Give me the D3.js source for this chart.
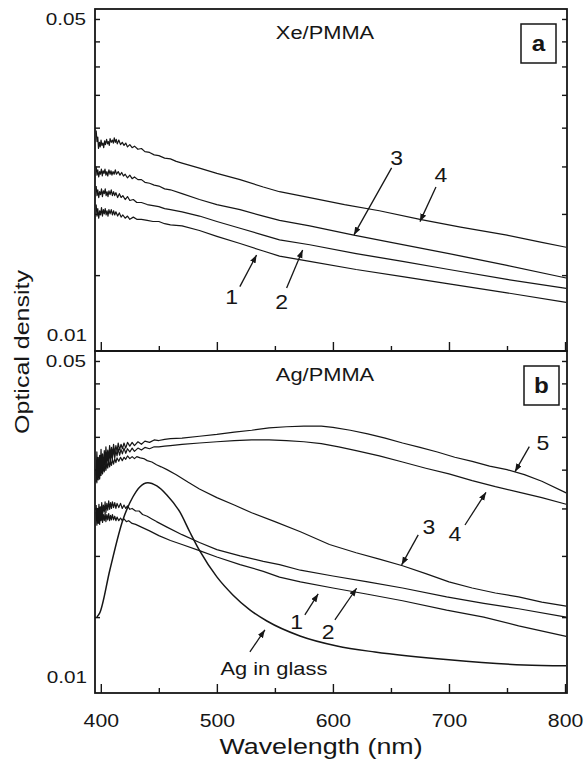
<!DOCTYPE html>
<html><head><meta charset="utf-8">
<script src="https://cdn.jsdelivr.net/npm/d3@7/dist/d3.min.js"></script>
<style>body{margin:0;background:#fff}svg{display:block}</style>
</head><body>
<svg id="c" width="587" height="771"></svg>
<script>
// ---------------- DATA ----------------
const xTickMajor = [400, 500, 600, 700, 800];
const xTickMinor = [450, 550, 650, 750];
const yTickValues = [0.015, 0.02, 0.025, 0.03, 0.035, 0.04, 0.045, 0.05];
const yTopLabel = "0.05";
const yBottomLabel = "0.01";

// Panel a : Xe/PMMA  [wavelength nm, optical density]
const xe1 = [[396,0.0209],[396.7,0.0198],[397.4,0.0205],[398.2,0.0196],[399,0.0203],[399.8,0.0199],[400.6,0.0206],[401.4,0.0198],[402.2,0.0204],[403,0.0200],[403.8,0.0205],[404.6,0.0199],[405.4,0.0203],[406.2,0.0198],[407,0.0204],[408,0.0200],[409,0.0204],[410,0.0199],[411,0.0203],[412,0.0199],[413,0.0202],[414.5,0.0198],[416,0.0201],[417.5,0.0197],[419,0.0199],[421,0.0196],[423,0.0198],[425,0.0195],[428,0.0197],[431,0.0195],[435,0.0195],[440,0.0194],[445,0.0193],[450,0.0193],[455,0.0191],[460,0.0190],[470,0.0189],[485,0.0185],[500,0.0180],[520,0.0174],[540,0.0168],[554,0.0164],[580,0.0160],[620,0.0154],[660,0.0149],[700,0.0144],[750,0.0138],[801,0.0132]];
const xe2 = [[396,0.0228],[396.7,0.0218],[397.4,0.0224],[398.2,0.0216],[399,0.0222],[399.8,0.0219],[400.6,0.0225],[401.4,0.0217],[402.2,0.0223],[403,0.0220],[403.8,0.0225],[404.6,0.0218],[405.4,0.0222],[406.2,0.0217],[407,0.0223],[408,0.0219],[409,0.0224],[410,0.0218],[411,0.0222],[412,0.0218],[413,0.0221],[414.5,0.0216],[416,0.0220],[417.5,0.0216],[419,0.0218],[421,0.0214],[423,0.0217],[425,0.0213],[428,0.0214],[431,0.0211],[435,0.0211],[440,0.0209],[445,0.0208],[450,0.0207],[455,0.0205],[460,0.0204],[470,0.0202],[485,0.0198],[500,0.0193],[520,0.0187],[540,0.0181],[554,0.0177],[580,0.0173],[620,0.0166],[660,0.0160],[700,0.0154],[750,0.0147],[801,0.0141]];
const xe3 = [[396,0.0250],[396.7,0.0240],[397.4,0.0246],[398.2,0.0238],[399,0.0244],[399.7,0.0241],[400.5,0.0247],[401.3,0.0239],[402,0.0245],[402.8,0.0242],[403.6,0.0247],[404.4,0.0240],[405.2,0.0244],[406,0.0239],[407,0.0246],[408,0.0241],[408.8,0.0245],[409.6,0.0240],[410.5,0.0244],[411.5,0.0241],[412.5,0.0246],[413.5,0.0241],[415,0.0244],[416.5,0.0240],[418,0.0243],[419.5,0.0239],[421,0.0241],[423,0.0237],[425,0.0240],[427,0.0236],[429,0.0238],[432,0.0235],[435,0.0235],[438,0.0232],[442,0.0231],[446,0.0229],[450,0.0228],[455,0.0225],[460,0.0224],[470,0.0220],[485,0.0214],[500,0.0209],[520,0.0204],[540,0.0198],[554,0.0194],[580,0.0189],[618,0.0181],[650,0.0175],[700,0.0166],[750,0.0157],[801,0.0148]];
const xe4 = [[396,0.0296],[396.7,0.0281],[397.4,0.0287],[398,0.0272],[398.8,0.0280],[399.5,0.0274],[400.2,0.0283],[401,0.0276],[401.8,0.0279],[402.5,0.0273],[403.3,0.0282],[404,0.0277],[405,0.0284],[405.8,0.0278],[406.5,0.0281],[407.3,0.0276],[408,0.0285],[409,0.0280],[410,0.0283],[410.8,0.0279],[411.6,0.0286],[412.5,0.0280],[413.3,0.0284],[414.2,0.0278],[415.5,0.0283],[417,0.0277],[418.5,0.0280],[420,0.0276],[421.5,0.0279],[423,0.0274],[425,0.0277],[427,0.0273],[429,0.0275],[432,0.0271],[435,0.0272],[438,0.0268],[442,0.0267],[446,0.0264],[450,0.0263],[455,0.0260],[460,0.0259],[465,0.0256],[470,0.0254],[485,0.0248],[500,0.0242],[520,0.0235],[540,0.0227],[554,0.0222],[580,0.0216],[610,0.0209],[640,0.0203],[675,0.0195],[710,0.0188],[750,0.0181],[780,0.0175],[801,0.0171]];

// Panel b : Ag/PMMA
const ag1 = [[396,0.0246],[396.6,0.0231],[397.2,0.0243],[397.8,0.0233],[398.4,0.0245],[399,0.0232],[399.6,0.0244],[400.2,0.0236],[400.8,0.0246],[401.5,0.0234],[402.2,0.0243],[403,0.0236],[403.7,0.0245],[404.4,0.0235],[405.2,0.0243],[406,0.0237],[406.8,0.0244],[407.6,0.0236],[408.4,0.0242],[409.2,0.0237],[410,0.0243],[411,0.0237],[412,0.0241],[413,0.0236],[414,0.0240],[415.5,0.0236],[417,0.0239],[418.5,0.0236],[420,0.0238],[422,0.0235],[424,0.0236],[427,0.0233],[430,0.0232],[435,0.0229],[442,0.0225],[450,0.0220],[460,0.0215],[470,0.0211],[485,0.0205],[500,0.0199],[520,0.0192],[540,0.0186],[554,0.0181],[572,0.0177],[600,0.0172],[630,0.0167],[660,0.0162],[698,0.0155],[730,0.0150],[760,0.0144],[801,0.0137]];
const ag2 = [[396,0.0254],[396.6,0.0237],[397.2,0.0250],[397.8,0.0240],[398.4,0.0255],[399,0.0238],[399.6,0.0252],[400.2,0.0244],[400.8,0.0257],[401.5,0.0242],[402.2,0.0254],[403,0.0246],[403.7,0.0258],[404.4,0.0245],[405.2,0.0256],[406,0.0248],[406.8,0.0259],[407.6,0.0249],[408.4,0.0257],[409.2,0.0250],[410,0.0258],[411,0.0251],[412,0.0257],[413,0.0250],[414,0.0256],[415.5,0.0251],[417,0.0256],[418.5,0.0250],[420,0.0254],[421.5,0.0250],[423,0.0253],[425,0.0249],[427,0.0250],[430,0.0247],[433,0.0247],[436,0.0243],[440,0.0241],[444,0.0238],[448,0.0235],[457,0.0229],[470,0.0221],[485,0.0213],[500,0.0206],[520,0.0200],[540,0.0195],[554,0.0192],[572,0.0187],[600,0.0182],[630,0.0177],[660,0.0172],[698,0.0165],[730,0.0160],[760,0.0156],[801,0.0150]];
const ag3 = [[396,0.0301],[396.6,0.0282],[397.2,0.0298],[397.8,0.0286],[398.4,0.0305],[399,0.0287],[399.6,0.0300],[400.2,0.0292],[400.8,0.0308],[401.5,0.0294],[402.2,0.0306],[403,0.0297],[403.7,0.0311],[404.4,0.0299],[405.2,0.0309],[406,0.0302],[406.8,0.0314],[407.6,0.0304],[408.4,0.0312],[409.2,0.0306],[410,0.0315],[411,0.0308],[412,0.0316],[413,0.0310],[414,0.0317],[415.5,0.0312],[417,0.0318],[418.5,0.0313],[420,0.0318],[421.5,0.0315],[423,0.0320],[425,0.0316],[427,0.0319],[429,0.0316],[431,0.0319],[434,0.0317],[437,0.0316],[440,0.0313],[444,0.0311],[448,0.0307],[452,0.0304],[457,0.0300],[465,0.0293],[475,0.0283],[485,0.0274],[500,0.0263],[515,0.0254],[530,0.0245],[550,0.0235],[572,0.0224],[597,0.0211],[620,0.0203],[640,0.0197],[660,0.0191],[680,0.0184],[700,0.0177],[720,0.0172],[740,0.0168],[760,0.0165],[780,0.0161],[801,0.0158]];
const ag4 = [[396,0.0283],[396.6,0.0312],[397.2,0.0289],[397.8,0.0308],[398.4,0.0296],[399,0.0319],[399.6,0.0292],[400.2,0.0315],[400.8,0.0299],[401.5,0.0322],[402.2,0.0301],[403,0.0317],[403.7,0.0305],[404.4,0.0325],[405.2,0.0306],[406,0.0321],[406.8,0.0311],[407.6,0.0327],[408.4,0.0313],[409.2,0.0324],[410,0.0316],[411,0.0330],[412,0.0317],[413,0.0328],[414,0.0320],[415,0.0331],[416.2,0.0321],[417.4,0.0330],[418.6,0.0323],[420,0.0332],[421.5,0.0324],[423,0.0331],[425,0.0326],[427,0.0332],[429,0.0327],[432,0.0332],[435,0.0329],[438,0.0333],[442,0.0331],[446,0.0334],[450,0.0334],[455,0.0335],[460,0.0336],[470,0.0338],[485,0.0340],[500,0.0342],[515,0.0344],[530,0.0345],[545,0.0345],[560,0.0344],[575,0.0342],[590,0.0339],[605,0.0334],[620,0.0328],[640,0.0320],[660,0.0311],[680,0.0302],[700,0.0294],[720,0.0285],[740,0.0277],[760,0.0270],[780,0.0263],[801,0.0255]];
const ag5 = [[396,0.0292],[396.6,0.0326],[397.2,0.0300],[397.8,0.0318],[398.4,0.0290],[399,0.0321],[399.6,0.0303],[400.2,0.0330],[400.8,0.0306],[401.5,0.0323],[402.2,0.0300],[403,0.0328],[403.7,0.0310],[404.4,0.0334],[405.2,0.0314],[406,0.0329],[406.8,0.0316],[407.6,0.0336],[408.4,0.0320],[409.2,0.0333],[410,0.0322],[411,0.0338],[412,0.0324],[413,0.0336],[414,0.0327],[415,0.0340],[416.2,0.0329],[417.4,0.0338],[418.6,0.0331],[420,0.0340],[421.5,0.0332],[423,0.0341],[425,0.0335],[427,0.0341],[429,0.0336],[432,0.0342],[435,0.0338],[438,0.0343],[442,0.0341],[446,0.0345],[450,0.0344],[455,0.0346],[460,0.0347],[470,0.0348],[485,0.0351],[500,0.0354],[515,0.0358],[530,0.0361],[545,0.0365],[560,0.0367],[575,0.0368],[590,0.0368],[600,0.0366],[615,0.0361],[630,0.0355],[645,0.0348],[660,0.0340],[675,0.0333],[690,0.0326],[705,0.0318],[720,0.0312],[735,0.0305],[750,0.0300],[765,0.0293],[780,0.0284],[801,0.0269]];
const agGlass = [[396.6,0.01501],[399.1,0.0153],[407.8,0.01872],[419,0.02368],[427.6,0.02638],[433.6,0.02766],[440.5,0.02822],[448.3,0.02779],[456.9,0.02663],[468.1,0.02459],[476.7,0.02238],[485.3,0.02047],[500,0.01812],[513.8,0.01665],[528.4,0.01552],[543.1,0.01473],[571.6,0.01373],[603.4,0.0131],[636.2,0.01273],[700,0.01227],[764.7,0.01198],[800.9,0.01193]];

// annotations: label, tip [wavelength, OD]
const xeNotes = [
  {label:"1", tip:[534.2,0.01649], tail:[-16.7,31.7], pos:[-25,41.7]},
  {label:"2", tip:[573.9,0.01688], tail:[-16,38], pos:[-21,51.7]},
  {label:"3", tip:[618.1,0.01812], tail:[37.7,-67], pos:[42.7,-77]},
  {label:"4", tip:[675,0.01929], tail:[16,-34.7], pos:[21,-46.7]}
];
const agNotes = [
  {label:"1", tip:[587.3,0.01673], tail:[-13.3,21], pos:[-21.6,27.7]},
  {label:"2", tip:[620.4,0.01718], tail:[-21.7,31.7], pos:[-28.4,43.4]},
  {label:"3", tip:[659.2,0.01917], tail:[16.6,-30], pos:[27.3,-38.3]},
  {label:"4", tip:[731.9,0.02697], tail:[-21,32.7], pos:[-31,41]},
  {label:"5", tip:[756.9,0.02972], tail:[14.3,-25], pos:[28,-28.4]},
  {label:"Ag in glass", tip:[541.4,0.01413], tail:[-15,22], pos:[9,38]}
];

// ---------------- DRAW ----------------
const svg = d3.select('#c');
const FONT = "'Liberation Sans', Arial, Helvetica, sans-serif";
const INK = '#161616';
const L = 95, R = 567, T = 9, PH = 342;
const x = d3.scaleLinear().domain([395, 801.7]).range([L, R]);
const makeY = top => d3.scaleLog().domain([0.0105, 0.0524]).range([top + PH, top]);

svg.append('defs').append('marker')
  .attr('id','ah').attr('markerUnits','userSpaceOnUse')
  .attr('markerWidth',9).attr('markerHeight',7).attr('refX',8).attr('refY',3)
  .attr('orient','auto')
  .append('path').attr('d','M0,0 L8,3 L0,6 Z').attr('fill',INK);

function sText(g, px, py, str, size, anchor, sx, weight) {
  return g.append('text')
    .attr('transform', `translate(${px},${py}) scale(${sx},1)`)
    .attr('text-anchor', anchor).attr('dy','0.36em')
    .attr('font-family', FONT).attr('font-size', size)
    .attr('font-weight', weight || 'normal').attr('fill', INK).text(str);
}

function panel(top, y, series, notes, title, letter, boxPos, showXLabels) {
  const g = svg.append('g');
  const clipId = 'clip' + top;
  svg.select('defs').append('clipPath').attr('id', clipId)
    .append('rect').attr('x', L).attr('y', top).attr('width', R - L).attr('height', PH);

  // curves
  const line = d3.line().x(d => x(d[0])).y(d => y(d[1]));
  const cg = g.append('g').attr('clip-path', `url(#${clipId})`);
  series.forEach(s => {
    cg.append('path').datum(s.data)
      .attr('d', s.smooth ? line.curve(d3.curveMonotoneX)(s.data) : line.curve(d3.curveLinear)(s.data))
      .attr('fill','none').attr('stroke', INK).attr('stroke-width', s.smooth ? 1.5 : 1.2)
      .attr('stroke-linejoin','round');
  });

  // axes ticks (inward)
  const bx = g.append('g').attr('transform', `translate(0,${top + PH})`);
  bx.call(d3.axisBottom(x).tickValues(xTickMajor).tickSizeInner(-9).tickSizeOuter(0).tickPadding(21)
      .tickFormat(showXLabels ? d3.format('d') : ''));
  const bm = g.append('g').attr('transform', `translate(0,${top + PH})`);
  bm.call(d3.axisBottom(x).tickValues(xTickMinor).tickSizeInner(-5).tickSizeOuter(0).tickFormat(''));
  const ly = g.append('g').attr('transform', `translate(${L},0)`);
  ly.call(d3.axisLeft(y).tickValues(yTickValues).tickSizeInner(-5).tickSizeOuter(0).tickFormat(''));
  const ry = g.append('g').attr('transform', `translate(${R},0)`);
  ry.call(d3.axisRight(y).tickValues(yTickValues).tickSizeInner(-5).tickSizeOuter(0).tickFormat(''));
  [bx, bm, ly, ry].forEach(a => {
    a.select('.domain').remove();
    a.selectAll('line').attr('stroke', INK).attr('stroke-width', 1.4);
  });
  bx.selectAll('text').attr('font-family', FONT).attr('font-size', 18).attr('fill', INK)
    .attr('transform', 'scale(1.18,1)');

  // y labels
  sText(g, 86, y(0.05), yTopLabel, 17, 'end', 1.22);
  sText(g, 87, top + PH - 16, yBottomLabel, 17, 'end', 1.22);

  // frame
  g.append('rect').attr('x', L).attr('y', top).attr('width', R - L).attr('height', PH)
    .attr('fill','none').attr('stroke', INK).attr('stroke-width', 1.8);

  // title
  sText(g, 325, top + 23, title, 19, 'middle', 1.15);
  // panel letter box
  g.append('rect').attr('x', boxPos[0]).attr('y', top + boxPos[1]).attr('width', 35).attr('height', 39)
    .attr('fill','#fff').attr('stroke', INK).attr('stroke-width', 1.5);
  sText(g, boxPos[0] + 17.5, top + boxPos[1] + 19, letter, 22, 'middle', 1.1, 'bold');

  // annotations
  notes.forEach(n => {
    const tx = x(n.tip[0]), ty = y(n.tip[1]);
    g.append('line').attr('x1', tx + n.tail[0]).attr('y1', ty + n.tail[1])
      .attr('x2', tx).attr('y2', ty).attr('stroke', INK).attr('stroke-width', 1.3)
      .attr('marker-end', 'url(#ah)');
    sText(g, tx + n.pos[0], ty + n.pos[1], n.label, n.label.length > 1 ? 19 : 20, 'middle', 1.15);
  });
}

const yA = makeY(T), yB = makeY(T + PH);
panel(T, yA, [
  {data: xe1}, {data: xe2}, {data: xe3}, {data: xe4}
], xeNotes, 'Xe/PMMA', 'a', [521, 15], false);
panel(T + PH, yB, [
  {data: ag1}, {data: ag2}, {data: ag3}, {data: ag4}, {data: ag5}, {data: agGlass, smooth: true}
], agNotes, 'Ag/PMMA', 'b', [524, 15], true);

// axis titles
sText(svg, 321, 746, 'Wavelength (nm)', 22, 'middle', 1.22);
svg.append('text')
  .attr('transform', 'translate(22,352) rotate(-90) scale(1.25,1)')
  .attr('text-anchor','middle').attr('dy','0.36em')
  .attr('font-family', FONT).attr('font-size', 20).attr('fill', INK)
  .text('Optical density');
</script>
</body></html>
